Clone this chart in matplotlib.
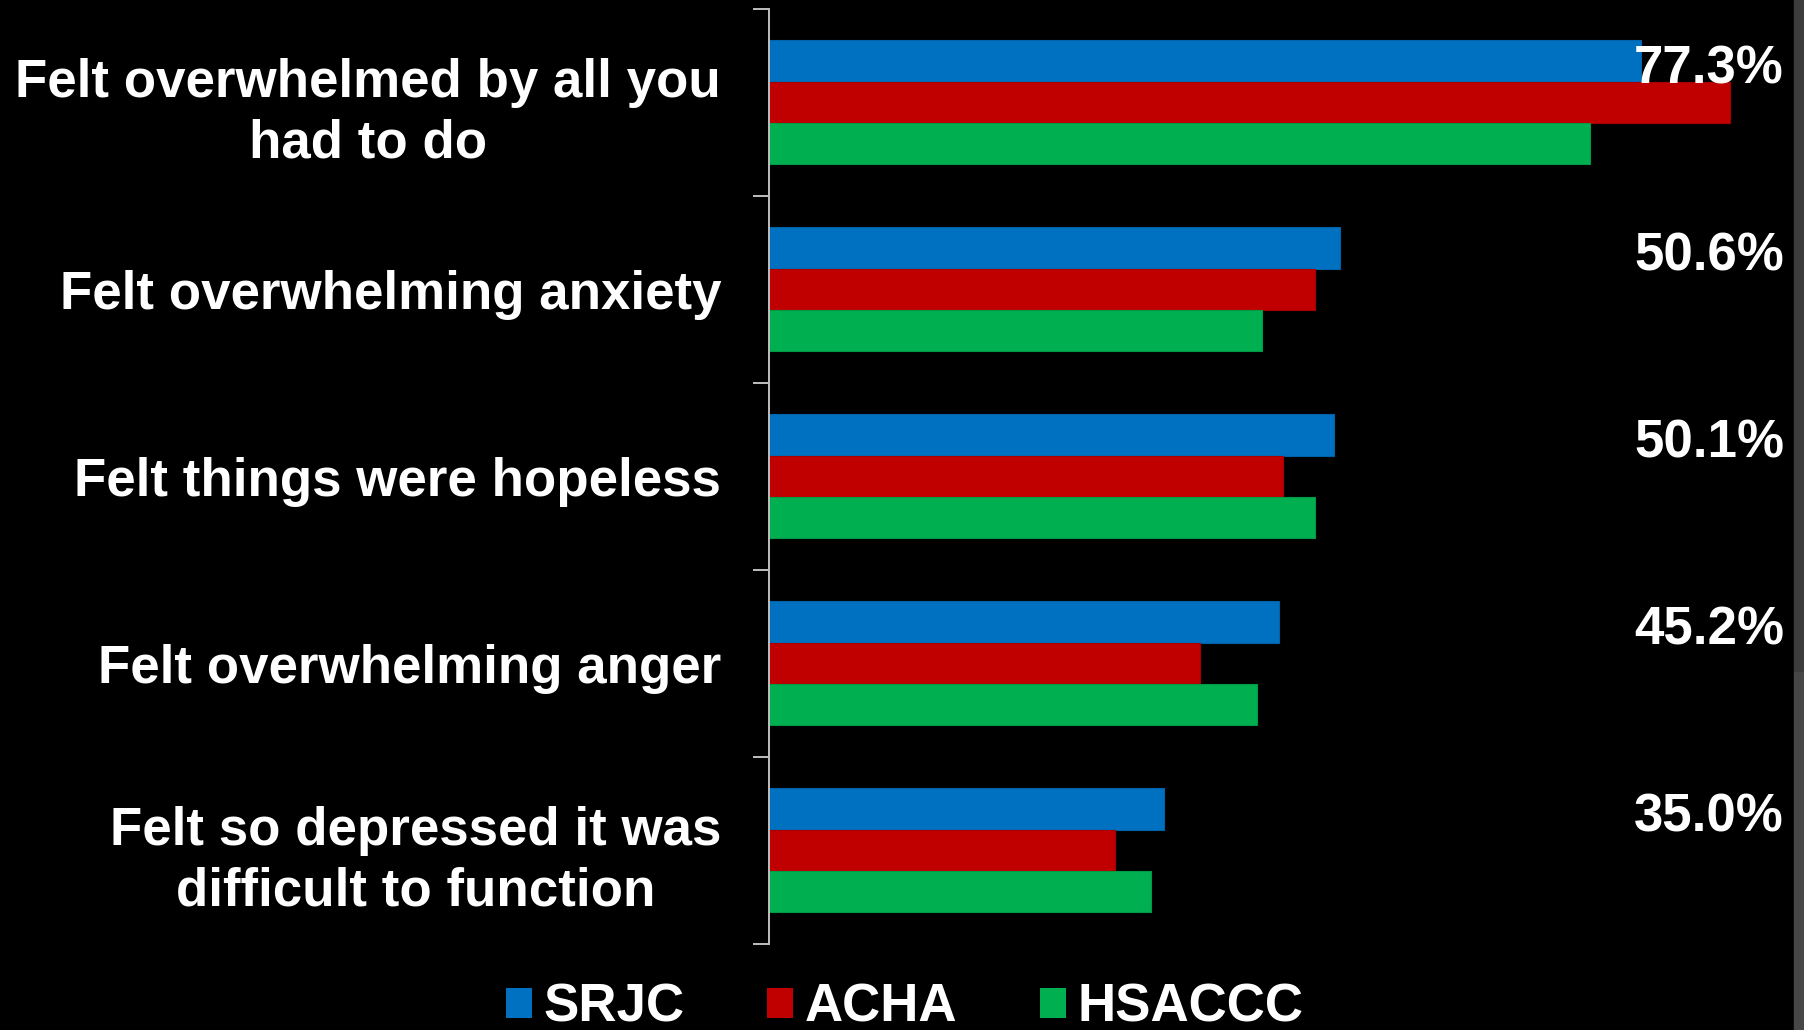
import matplotlib
matplotlib.use("Agg")
import matplotlib.pyplot as plt
from matplotlib.patches import Patch, Rectangle
import matplotlib.transforms as mtransforms
import numpy as np

# Data
categories = [
    "Felt overwhelmed by all you\nhad to do",
    "Felt overwhelming anxiety",
    "Felt things were hopeless",
    "Felt overwhelming anger",
    "Felt so depressed it was\ndifficult to function",
]
series_names = ["SRJC", "ACHA", "HSACCC"]
srjc = [77.3, 50.6, 50.1, 45.2, 35.0]
acha = [85.2, 48.4, 45.6, 38.2, 30.7]
hsaccc = [72.8, 43.7, 48.4, 43.3, 33.9]

# Style
bar_colors = ["#0070C0", "#C00000", "#00B050"]
edge_colors = ["#0062A8", "#A80000", "#009A46"]
axis_color = "#BFBFBF"
font = "Liberation Sans"
fsize = 38.1

plt.rcParams['font.family'] = [font, 'DejaVu Sans']

fig = plt.figure(figsize=(18.04, 10.30), dpi=100, facecolor="black")
ax = fig.add_axes([0.4263, 0.0835, 0.5626, 0.9078])
ax.set_facecolor("black")

y = np.arange(len(categories))
h = 0.221
for k, vals in enumerate([srjc, acha, hsaccc]):
    ax.barh(y + (k - 1) * h, vals, height=h, color=bar_colors[k],
            edgecolor=edge_colors[k], linewidth=0.8, label=series_names[k])

ax.set_xlim(0, 90)
ax.set_ylim(4.5, -0.5)

# value labels (SRJC) on the right edge
trans = mtransforms.blended_transform_factory(ax.transAxes, ax.transData)
for i, v in enumerate(srjc):
    ax.text(1.0, i - h + 0.045, "%.1f%%" % v, transform=trans, ha="right",
            va="center", color="white", fontsize=fsize, fontweight="bold")

# axis styling
for s in ["top", "right", "bottom"]:
    ax.spines[s].set_visible(False)
ax.spines["left"].set_color(axis_color)
ax.spines["left"].set_linewidth(1.4)
ax.set_xticks([])
ax.set_yticks(y)
ax.set_yticklabels(categories, color="white", fontsize=fsize, fontweight="bold")
for lbl in ax.get_yticklabels():
    lbl.set_multialignment("center")
    lbl.set_linespacing(1.28)
ax.tick_params(axis="y", which="major", length=0, pad=34.5)
ax.set_yticks(np.arange(-0.5, len(categories), 1.0), minor=True)
ax.tick_params(axis="y", which="minor", length=11.5, width=1.4, color=axis_color)

# legend
handles = [Patch(facecolor=c, edgecolor="none") for c in bar_colors]
leg = fig.legend(handles, series_names, loc="center", bbox_to_anchor=(0.5015, 0.0215),
                 ncol=3, frameon=False, prop={"size": fsize, "weight": "bold"},
                 handlelength=0.5, handleheight=0.5, handletextpad=0.22,
                 columnspacing=1.55, borderpad=0)
for t in leg.get_texts():
    t.set_color("white")

# gray strip on the right edge
fig.patches.append(Rectangle((1794 / 1804, 358 / 1030), 10 / 1804, 672 / 1030,
                             transform=fig.transFigure, color="#3C3C3C", zorder=0))
fig.patches.append(Rectangle((1794 / 1804, 0), 10 / 1804, 358 / 1030,
                             transform=fig.transFigure, color="#474747", zorder=0))

fig.savefig("out.png", dpi=100, facecolor="black")
